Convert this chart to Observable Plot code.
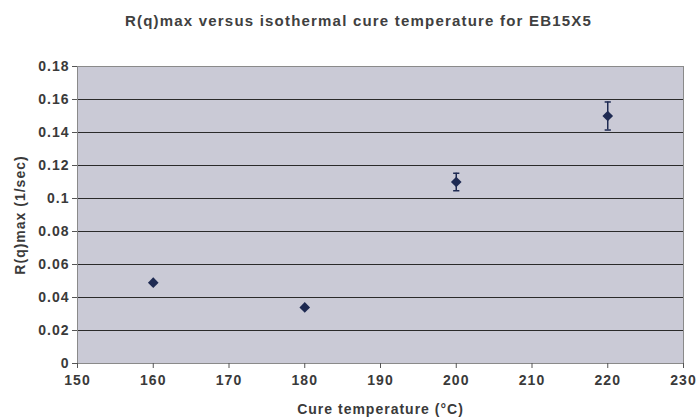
<!DOCTYPE html>
<html><head><meta charset="utf-8">
<script src="https://cdn.jsdelivr.net/npm/d3@7"></script>
<script src="https://cdn.jsdelivr.net/npm/@observablehq/plot@0.6"></script>
<style>
body{margin:0;background:#fff;font-family:"Liberation Sans",Arial,sans-serif;}
#title{width:699px;height:40px;box-sizing:border-box;padding:12px 0 0 18px;text-align:center;font-size:15px;letter-spacing:1.2px;font-weight:bold;color:#404040;}
</style></head><body>
<div id="title">R(q)max versus isothermal cure temperature for EB15X5</div>
<div id="chart"></div>
<script>
const temps = [160, 180, 200, 220];
const rqmax = [0.049, 0.034, 0.110, 0.150];
const errs = [0, 0, 0.0053, 0.0085];
const xTicks = [150, 160, 170, 180, 190, 200, 210, 220, 230];
const yTicks = [0, 0.02, 0.04, 0.06, 0.08, 0.1, 0.12, 0.14, 0.16, 0.18];

const data = temps.map((t, i) => ({t, v: rqmax[i], e: errs[i]}));
const withErr = data.filter(d => d.e > 0);
const cap = {draw(ctx, size){const w = Math.sqrt(size); ctx.moveTo(-w/2, 0); ctx.lineTo(w/2, 0);}};
const rhomb = {draw(ctx, size){const w = Math.sqrt(size) / 2; ctx.moveTo(0, -w); ctx.lineTo(w, 0); ctx.lineTo(0, w); ctx.lineTo(-w, 0); ctx.closePath();}};
const markColor = "#1e2a52";

const chart = Plot.plot({
  width: 699, height: 380,
  marginTop: 26, marginBottom: 57, marginLeft: 77, marginRight: 16,
  style: {fontFamily: '"Liberation Sans", Arial, sans-serif', fontSize: "14px", fontWeight: "bold", color: "#3a3a3a", background: "#fff", letterSpacing: "1px"},
  x: {domain: [150, 230]},
  y: {domain: [0, 0.18]},
  marks: [
    Plot.frame({fill: "#cacad6", stroke: "none"}),
    Plot.gridY(yTicks, {stroke: "#2a2a2a", strokeOpacity: 1, strokeWidth: 1}),
    Plot.frame({stroke: "#8a8a8a"}),
    Plot.axisX(xTicks, {tickSize: 5, tickPadding: 7, tickFormat: d => String(d), fontSize: 14, fontWeight: "bold", stroke: "#555",
      label: "Cure temperature (°C)", labelAnchor: "center", labelArrow: "none", labelOffset: 50}),
    Plot.axisY(yTicks, {tickSize: 5, tickPadding: 3, tickFormat: d => String(d), fontSize: 14, fontWeight: "bold", stroke: "#555",
      label: "R(q)max (1/sec)", labelAnchor: "center", labelArrow: "none", labelOffset: 62}),
    Plot.ruleX(withErr, {x: "t", y1: d => d.v - d.e, y2: d => d.v + d.e, stroke: markColor, strokeWidth: 1.5}),
    Plot.dot(withErr, {x: "t", y: d => d.v - d.e, symbol: cap, r: 3.5, stroke: markColor, strokeWidth: 1.5, fill: "none"}),
    Plot.dot(withErr, {x: "t", y: d => d.v + d.e, symbol: cap, r: 3.5, stroke: markColor, strokeWidth: 1.5, fill: "none"}),
    Plot.dot(data, {x: "t", y: "v", symbol: rhomb, r: 6, fill: markColor, stroke: "none"})
  ]
});
document.getElementById("chart").appendChild(chart);
</script>
</body></html>
